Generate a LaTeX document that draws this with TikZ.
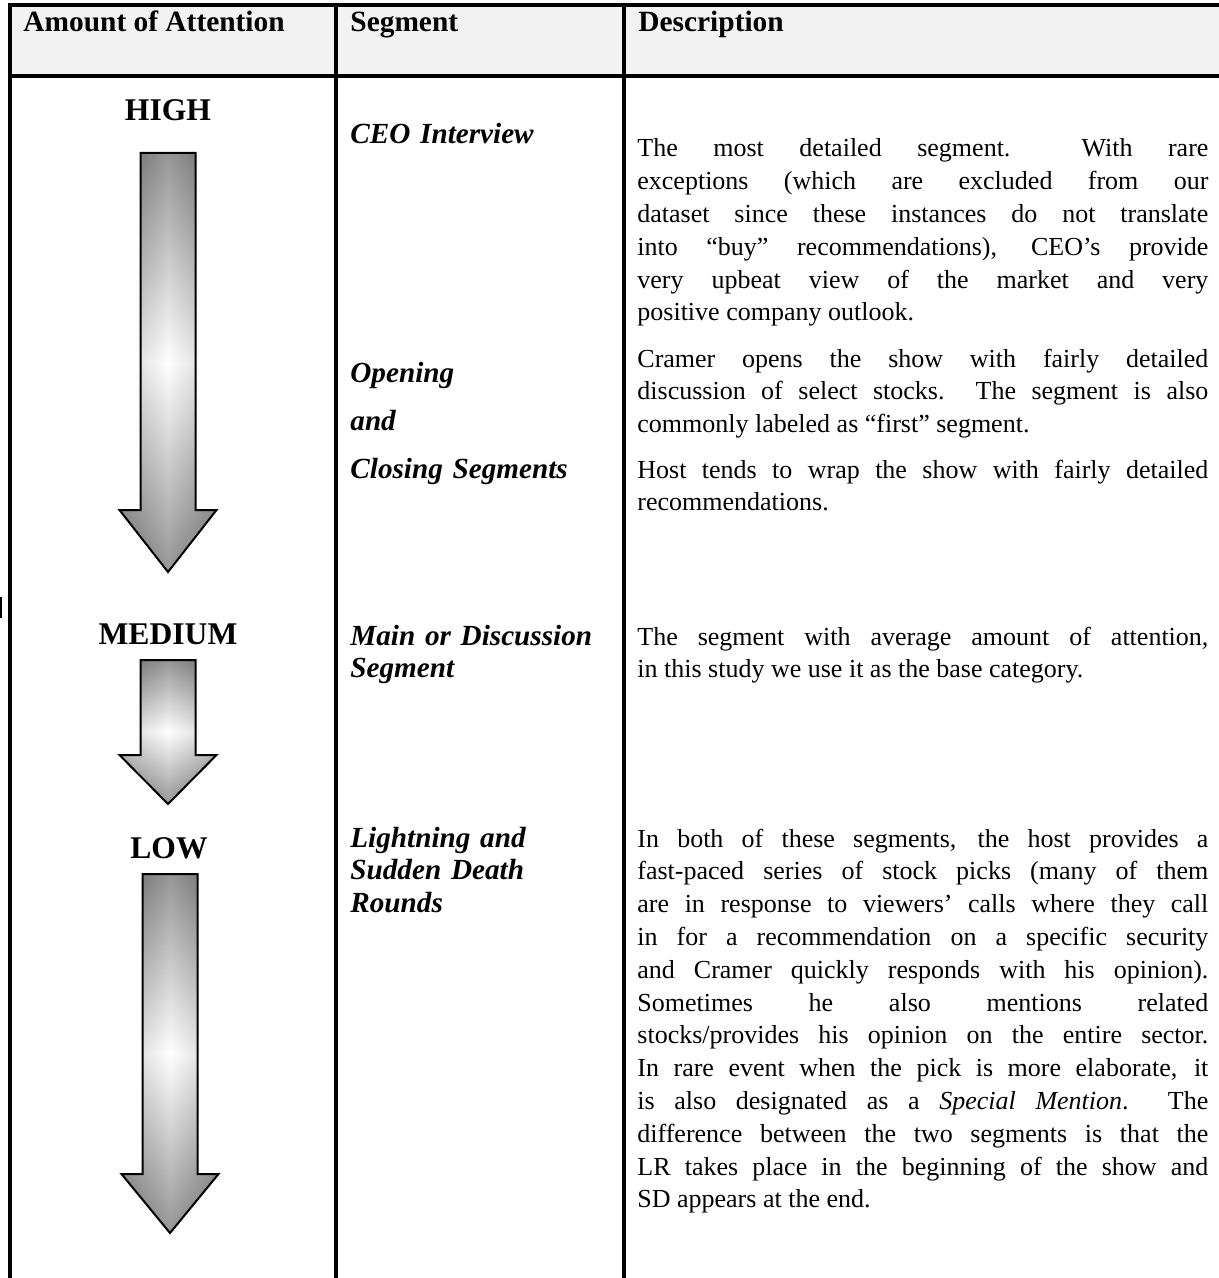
\documentclass[tikz,border=0pt]{standalone}
\usepackage{fontspec}
\setmainfont{Liberation Serif}
\usepackage{xcolor}
\definecolor{headfill}{HTML}{F2F2F2}
\definecolor{arrowdark}{HTML}{6A6A6A}

\newcommand{\bodysize}{\fontsize{13pt}{16.4pt}\selectfont
  \hyphenpenalty=10000\relax\exhyphenpenalty=10000\relax\tolerance=10000\relax}

\begin{document}
\begin{tikzpicture}[x=0.5pt, y=-0.5pt,
    tablerule/.style={line width=2pt},
    headtext/.style={anchor=base west, inner sep=0pt,
      font=\fontsize{14.7pt}{16.4pt}\selectfont\bfseries},
    leveltext/.style={anchor=base, inner sep=0pt,
      font=\fontsize{15.8pt}{18pt}\selectfont\bfseries},
    segtext/.style={anchor=base west, inner sep=0pt, text width=130pt, align=left,
      font=\fontsize{14.6pt}{16.4pt}\selectfont\bfseries\itshape},
    desctext/.style={anchor=base west, inner sep=0pt, text width=285.5pt, align=justify,
      font=\bodysize}]

  \useasboundingbox (0,0) rectangle (1219,1278);

  % header row and rules
  \fill[headfill] (9.5,5) rectangle (1219,76);
  \draw[tablerule] (7.5,5) -- (1219,5);
  \draw[tablerule] (9.5,76) -- (1219,76);
  \draw[tablerule] (9.5,3) -- (9.5,1278);
  \draw[tablerule] (336,5) -- (336,1278);
  \draw[tablerule] (624,5) -- (624,1278);
  \draw[line width=0.75pt] (0.75,597) -- (0.75,618);

  \node[headtext] (hattn) at (23,32) {Amount of Attention};
  \node[headtext] (hseg) at (350,32) {Segment};
  \node[headtext] (hdesc) at (638,32) {Description};

  % attention levels
  \node[leveltext] (high) at (168,121) {HIGH};
  \node[leveltext] (medium) at (168,644) {MEDIUM};
  \node[leveltext] (low) at (169,858) {LOW};

  \foreach \cx/\ya/\yb/\yc in {168/153/510/572, 168/660/755/804, 170/874/1174/1233}{
    \draw[line width=1pt, line join=miter,
      preaction={top color=arrowdark, bottom color=arrowdark, middle color=white},
      preaction={fill opacity=0.3, left color=arrowdark, right color=arrowdark, middle color=white}]
      (\cx-27.5,\ya) -- (\cx+27.5,\ya) -- (\cx+27.5,\yb) -- (\cx+48.5,\yb)
      -- (\cx,\yc) -- (\cx-48.5,\yb) -- (\cx-27.5,\yb) -- cycle;
  }

  % segments
  \node[segtext] (sceo) at (350,144) {CEO Interview};
  \node[segtext] (sopen) at (350,382) {Opening};
  \node[segtext] (sand) at (350,430) {and};
  \node[segtext] (sclose) at (350,478) {Closing Segments};
  \node[segtext] (smain) at (350,645) {Main or Discussion\\Segment};
  \node[segtext] (slight) at (350,847) {Lightning and\\Sudden Death\\Rounds};

  % descriptions
  \node[desctext] (dceo) at (637,157) {The most detailed segment.\ \ With rare\linebreak
    exceptions (which are excluded from our\linebreak
    dataset since these instances do not translate\linebreak
    into “buy” recommendations), CEO’s provide\linebreak
    very upbeat view of the market and very\linebreak
    positive company outlook.};
  \node[desctext] (dopen) at (637,367) {Cramer opens the show with fairly detailed\linebreak
    discussion of select stocks.\ \ The segment is also\linebreak
    commonly labeled as “first” segment.};
  \node[desctext] (dclose) at (637,478) {Host tends to wrap the show with fairly detailed\linebreak
    recommendations.};
  \node[desctext] (dmain) at (637,645) {The segment with average amount of attention,\linebreak
    in this study we use it as the base category.};
  \node[desctext] (dlight) at (637,847) {In both of these segments, the host provides a\linebreak
    fast-paced series of stock picks (many of them\linebreak
    are in response to viewers’ calls where they call\linebreak
    in for a recommendation on a specific security\linebreak
    and Cramer quickly responds with his opinion).\linebreak
    Sometimes he also mentions related\linebreak
    stocks/provides his opinion on the entire sector.\linebreak
    In rare event when the pick is more elaborate, it\linebreak
    is also designated as a \textit{Special Mention}.\ \ The\linebreak
    difference between the two segments is that the\linebreak
    LR takes place in the beginning of the show and\linebreak
    SD appears at the end.};
\end{tikzpicture}
\end{document}
